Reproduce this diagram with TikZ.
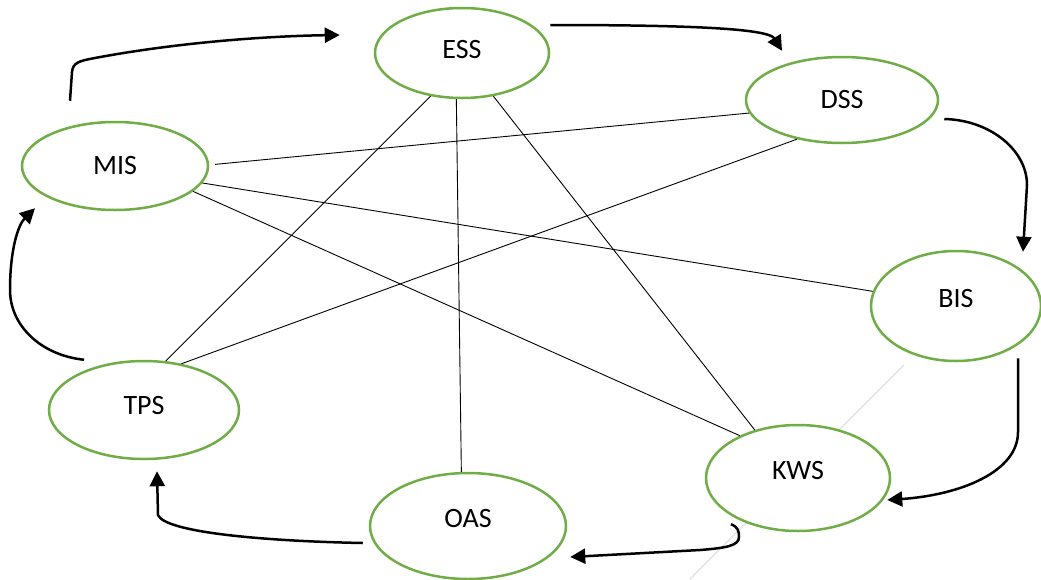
\documentclass[tikz,border=0pt]{standalone}
\usepackage{fontspec}
\setmainfont{Carlito}
\usetikzlibrary{shapes.geometric,arrows.meta}
\definecolor{sysgreen}{HTML}{70AD47}

\begin{document}
\begin{tikzpicture}[x=1pt,y=-1pt,
    sys/.style={ellipse,draw=sysgreen,line width=2.5pt,fill=white,inner sep=0pt,
        text depth=8pt,font=\fontsize{28}{34}\selectfont},
    link/.style={line width=0.9pt},
    flow/.style={line width=2.5pt,-{Triangle[length=15pt,width=15pt]}}]
    \useasboundingbox (0,0) rectangle (1041,579);
    \draw[gray!20,line width=1.5pt] (904,365) -- (690,579);

    \node[sys,minimum width=174pt,minimum height=90pt] (ess) at (462,53) {ESS};
    \node[sys,minimum width=192pt,minimum height=86pt,text depth=2pt] (dss) at (842,100) {DSS};
    \node[sys,minimum width=186pt,minimum height=88pt,text depth=2pt] (mis) at (115,166) {MIS};
    \node[sys,minimum width=170pt,minimum height=110pt,text depth=16pt] (bis) at (956,306) {BIS};
    \node[sys,minimum width=184pt,minimum height=106pt,text depth=16pt] (kws) at (798,478) {KWS};
    \node[sys,minimum width=196pt,minimum height=106pt,text depth=16pt] (oas) at (468,526) {OAS};
    \node[sys,minimum width=190pt,minimum height=98pt,text depth=10pt] (tps) at (144,410) {TPS};

    \draw[link] ([xshift=6pt]mis.1) -- (dss.188);
    \draw[link] (mis.-11) -- (bis.170);
    \draw[link] (mis.-18) -- (kws.144);
    \draw[link] (ess.234) -- (tps.66);
    \draw[link] (ess.263) -- (oas.97);
    \draw[link] (ess.306) -- (kws.132);
    \draw[link] (dss.221) -- (tps.51);

    \draw[flow] ([xshift=-45pt,yshift=20pt]mis.north) -- (72,72)
        .. controls (73,63) and (78,61) .. (95,58)
        .. controls (180,42) and (270,36) .. ([xshift=-34pt,yshift=18pt]ess.west);
    \draw[flow] ([yshift=28pt]ess.east) .. controls (680,25) and (768,28) .. ([xshift=-60pt,yshift=5pt]dss.north);
    \draw[flow] ([xshift=5pt,yshift=-19pt]dss.east) .. controls (990,120) and (1027,150) .. (1027,185)
        -- ([xshift=67pt,yshift=-2pt]bis.north);
    \draw[flow] ([xshift=62pt,yshift=4pt]bis.south) -- (1018,432)
        .. controls (1018,472) and (960,495) .. ([xshift=-4pt,yshift=-22pt]kws.east);
    \draw[flow] ([xshift=-67pt,yshift=8pt]kws.south) .. controls (738,527) and (739,531) .. (739,537)
        .. controls (739,546) and (725,548) .. (700,550) -- ([xshift=3pt,yshift=-31pt]oas.east);
    \draw[flow] ([xshift=-6pt,yshift=-17pt]oas.west) .. controls (260,541) and (165,532) .. (158,515)
        -- ([xshift=13pt,yshift=-11pt]tps.south);
    \draw[flow] ([xshift=-60pt]tps.north) .. controls (40,355) and (10,325) .. (10,290)
        .. controls (10,250) and (18,225) .. ([xshift=-80pt,yshift=3pt]mis.south);
\end{tikzpicture}
\end{document}
